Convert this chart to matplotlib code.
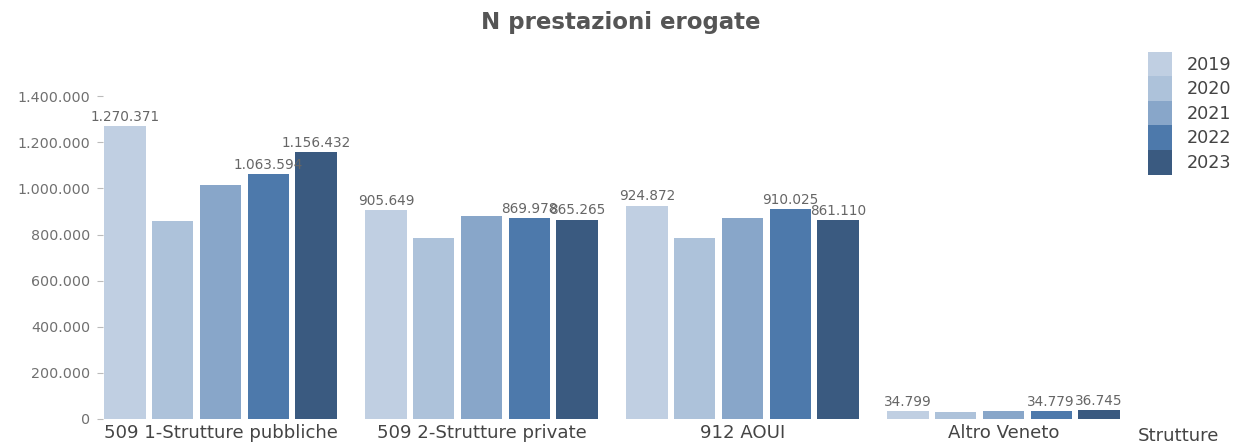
import numpy as np
import matplotlib
matplotlib.use('Agg')
import matplotlib.pyplot as plt

plt.rcParams['font.family'] = ['DejaVu Sans']

categories = ['509 1-Strutture pubbliche', '509 2-Strutture private', '912 AOUI', 'Altro Veneto']
years = ['2019', '2020', '2021', '2022', '2023']
values = {
    '2019': [1270371, 905649, 924872, 34799],
    '2020': [857000, 787000, 787000, 28000],
    '2021': [1013000, 880000, 871000, 33000],
    '2022': [1063594, 869978, 910025, 34779],
    '2023': [1156432, 865265, 861110, 36745],
}
labelled_years = ['2019', '2022', '2023']
colors = ['#c0cfe2', '#adc2da', '#88a6c9', '#4d79ab', '#3a5a80']

def fmt(v):
    return f'{int(v):,}'.replace(',', '.')

fig = plt.figure(figsize=(12.42, 4.48), dpi=100)
ax = fig.add_axes([0.083, 0.065, 0.83, 0.72])

x = np.arange(len(categories))
step = 0.183
width = 0.158
for i, y in enumerate(years):
    pos = x + (i - 2) * step
    bars = ax.bar(pos, values[y], width=width, color=colors[i], label=y)
    if y in labelled_years:
        for b, v in zip(bars, values[y]):
            ax.text(b.get_x() + b.get_width() / 2, v + 10000, fmt(v),
                    ha='center', va='bottom', fontsize=9.8, color='#666666')

ax.set_xlim(-0.45, 3.5)
ax.set_ylim(0, 1400000)
ax.set_yticks(np.arange(0, 1400001, 200000))
ax.set_yticklabels([fmt(t) for t in np.arange(0, 1400001, 200000)], fontsize=10.3, color='#707070')
ax.set_xticks(x)
ax.set_xticklabels(categories, fontsize=13.1, color='#444444')
ax.tick_params(axis='x', length=0, pad=4)
ax.tick_params(axis='y', length=4, color='#bbbbbb', pad=5)
for s in ax.spines.values():
    s.set_visible(False)

fig.text(0.949, 0.007, 'Strutture', fontsize=13.1, color='#444444', ha='center', va='bottom')
fig.suptitle('N prestazioni erogate', x=0.5, y=0.975, fontsize=16.5, fontweight='bold', color='#555555')

leg = ax.legend(loc='upper left', bbox_to_anchor=(0.924, 0.885), bbox_transform=fig.transFigure,
                frameon=False, fontsize=12.7, labelspacing=0, handlelength=1.36,
                handleheight=1.77, handletextpad=0.85, borderpad=0, borderaxespad=0)
for t in leg.get_texts():
    t.set_color('#444444')

fig.savefig('out.png', dpi=100)
